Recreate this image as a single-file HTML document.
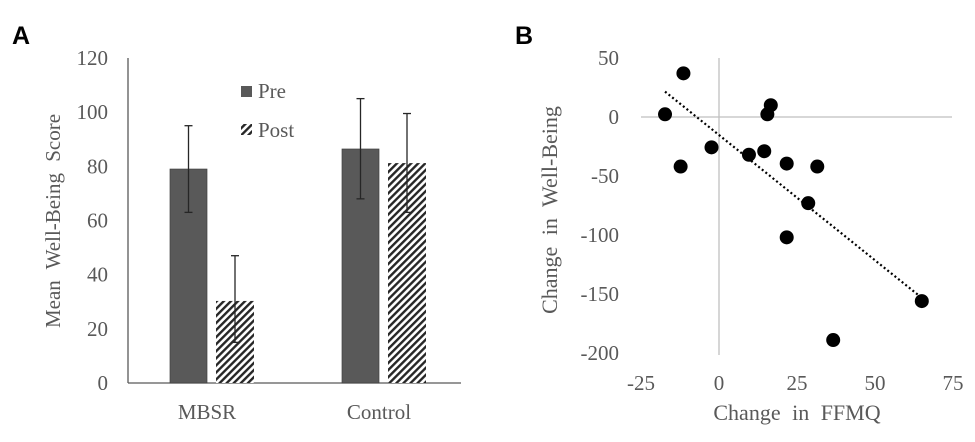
<!DOCTYPE html>
<html><head><meta charset="utf-8"><style>
body{margin:0;background:#fff;}
svg text{font-family:"Liberation Serif",serif;fill:#595959;}
</style></head><body>
<svg width="975" height="437" viewBox="0 0 975 437">
<defs><pattern id="hatch" width="5" height="5" patternUnits="userSpaceOnUse" patternTransform="rotate(45)"><rect width="5" height="5" fill="#fff"/><rect width="2.4" height="5" fill="#262626"/></pattern></defs>
<text x="12" y="44" style="font-family:'Liberation Sans',sans-serif;font-weight:bold;font-size:25px;fill:#000">A</text>
<text x="515" y="44" style="font-family:'Liberation Sans',sans-serif;font-weight:bold;font-size:25px;fill:#000">B</text>
<g id="A"></g><g id="B"></g>
</svg>
<script>
const categories=["MBSR","Control"];
const preVals=[79,86.4];
const postVals=[30.3,81.2];
const preErrHi=[95,105];const preErrLo=[63,68];
const postErrHi=[47,99.5];const postErrLo=[15,63];
const yTicksA=[0,20,40,60,80,100,120];

const fx=[-17.3,-11.4,-12.3,-2.4,9.6,14.5,15.5,16.6,21.7,31.5,28.6,21.7,65,36.6];
const fy=[2.3,37,-42,-25.7,-32,-29,2.3,10,-39.5,-42,-73,-102,-156,-189];
const trendX=[-17.3,64.4];
const trendY=[21.5,-152];
const xTicksB=[-25,0,25,50,75];
const yTicksB=[50,0,-50,-100,-150,-200];

const NS="http://www.w3.org/2000/svg";
function mk(p,t,a,txt){const e=document.createElementNS(NS,t);for(const k in a)e.setAttribute(k,a[k]);if(txt!==undefined)e.textContent=txt;p.appendChild(e);return e;}
const A=document.getElementById('A'),B=document.getElementById('B');
const yA=v=>383-v*325/120;
const catX=[207,379];
let e;
e=mk(A,'line',{x1:128,y1:58,x2:128,y2:383,stroke:'#595959','stroke-width':1.3});

e=mk(A,'line',{x1:128,y1:383,x2:461,y2:383,stroke:'#595959','stroke-width':1.3});

yTicksA.forEach(v=>{e=mk(A,'text',{x:108,y:yA(v)+7,'text-anchor':'end','font-size':21},String(v));
});
e=mk(A,'text',{transform:'translate(60,221) rotate(-90)','text-anchor':'middle','font-size':21,'word-spacing':'6px'},'Mean Well-Being  Score');

categories.forEach((c,i)=>{
 const cx=catX[i];
 e=mk(A,'text',{x:cx,y:419,'text-anchor':'middle','font-size':21},c);
 
 e=mk(A,'rect',{x:cx-37,y:yA(preVals[i]),width:37,height:383-yA(preVals[i]),fill:'#595959',stroke:'#404040','stroke-width':0.7});
 
 e=mk(A,'rect',{x:cx+9,y:yA(postVals[i]),width:38,height:383-yA(postVals[i]),fill:'url(#hatch)'});
 
 [[cx-18.5,preErrHi[i],preErrLo[i]],[cx+28,postErrHi[i],postErrLo[i]]].forEach(([x,h,l])=>{
  const g=mk(A,'g',{stroke:'#262626','stroke-width':1.3});
  
  mk(g,'line',{x1:x,y1:yA(h),x2:x,y2:yA(l)});
  mk(g,'line',{x1:x-4,y1:yA(h),x2:x+4,y2:yA(h)});
  mk(g,'line',{x1:x-4,y1:yA(l),x2:x+4,y2:yA(l)});
 });
});
e=mk(A,'rect',{x:241,y:86,width:11,height:11,fill:'#595959'});

e=mk(A,'text',{x:258,y:98,'font-size':21},'Pre');

e=mk(A,'rect',{x:241,y:124,width:11,height:11,fill:'url(#hatch)'});

e=mk(A,'text',{x:258,y:137,'font-size':21},'Post');


const xB=v=>719+v*3.12;
const yB=v=>117-v*1.18;
e=mk(B,'line',{x1:xB(-25),y1:yB(0),x2:952,y2:yB(0),stroke:'#bfbfbf','stroke-width':1.3});

e=mk(B,'line',{x1:xB(0),y1:yB(50),x2:xB(0),y2:355,stroke:'#bfbfbf','stroke-width':1.3});

yTicksB.forEach(v=>{e=mk(B,'text',{x:619,y:yB(v)+7,'text-anchor':'end','font-size':21},String(v));
});
xTicksB.forEach(v=>{e=mk(B,'text',{x:xB(v),y:390,'text-anchor':'middle','font-size':21},String(v));
});
e=mk(B,'text',{x:797,y:420,'text-anchor':'middle','font-size':22,'word-spacing':'6px'},'Change in FFMQ');

e=mk(B,'text',{transform:'translate(557,210) rotate(-90)','text-anchor':'middle','font-size':22,'word-spacing':'6px'},'Change in Well-Being');

e=mk(B,'line',{x1:xB(trendX[0]),y1:yB(trendY[0]),x2:xB(trendX[1]),y2:yB(trendY[1]),stroke:'#000','stroke-width':2.2,'stroke-dasharray':'2 2.6'});

fx.forEach((x,i)=>{e=mk(B,'circle',{cx:xB(x),cy:yB(fy[i]),r:7,fill:'#000'});
});
</script>
</body></html>
